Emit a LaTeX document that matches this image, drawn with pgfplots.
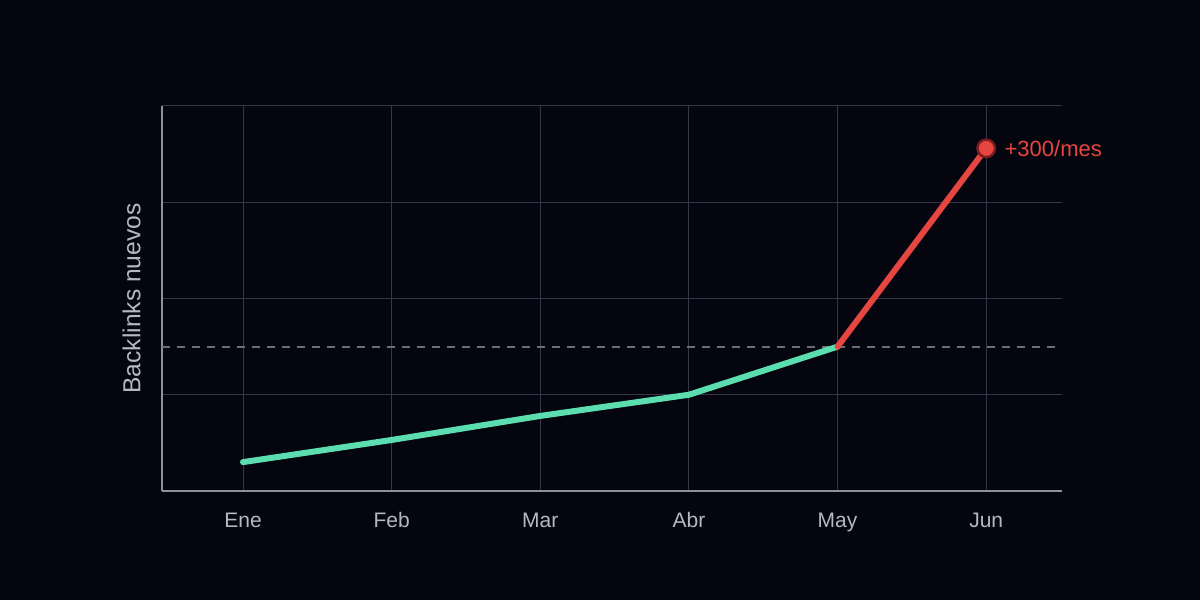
\documentclass[border=0pt]{standalone}
\usepackage{pgfplots}
\pgfplotsset{compat=1.18}
\usepackage{fontspec}
\setmainfont{Liberation Sans}
\usetikzlibrary{backgrounds}
\definecolor{bgdark}{HTML}{04050F}
\definecolor{gridgray}{HTML}{34374A}
\definecolor{axisgray}{HTML}{8E909C}
\definecolor{labelgray}{HTML}{B5B7C3}
\definecolor{mint}{HTML}{5CDDB0}
\definecolor{alertred}{HTML}{E5463F}
\definecolor{darkred}{HTML}{7A1C1E}
\definecolor{dashgray}{HTML}{6A6D7A}

\begin{document}
\begin{tikzpicture}
  \begin{axis}[
    name=ax,
    scale only axis,
    width=450pt, height=192.5pt,
    xmin=-0.545, xmax=5.51,
    ymin=0, ymax=400,
    axis lines*=left,
    axis line style={axisgray, line width=0.8pt},
    xtick={0,...,5},
    xticklabels={Ene,Feb,Mar,Abr,May,Jun},
    ytick={0,100,200,300,400},
    yticklabels={},
    major tick length=0pt,
    xmajorgrids, ymajorgrids,
    grid style={gridgray, line width=0.5pt},
    xticklabel style={font=\fontsize{10.5}{12}\selectfont, text=labelgray, anchor=base, yshift=-18.5pt},
    ylabel={Backlinks nuevos},
    every axis y label/.style={at={(rel axis cs:-0.016,0.5)}, rotate=90, anchor=south,
      font=\fontsize{12.3}{14}\selectfont, text=labelgray},
    clip=false,
  ]
    % reference level
    \addplot[dashgray, line width=1pt, dash pattern=on 4pt off 3.5pt] coordinates {(-0.545,150) (5.51,150)};
    % steady growth
    \addplot[mint, line width=3pt, line cap=round, line join=round] coordinates {
      (0,30) (1,53) (2,78) (3,100) (4,150)
    };
    % jump
    \addplot[alertred, line width=3pt, line cap=round, line join=round] coordinates {
      (4,150) (5,356)
    };
    \addplot[only marks, mark=*, mark size=4.4pt, mark options={fill=alertred, draw=darkred, line width=1.2pt}] coordinates {(5,356)};
    \node[anchor=west, inner sep=0pt, xshift=9pt, text=alertred, font=\fontsize{11}{13}\selectfont] at (axis cs:5,356) {+300/mes};
  \end{axis}
  \begin{scope}[on background layer]
    \fill[bgdark] ([shift={(-81pt,-54.5pt)}]ax.south west) rectangle ([shift={(69pt,53pt)}]ax.north east);
  \end{scope}
\end{tikzpicture}
\end{document}
